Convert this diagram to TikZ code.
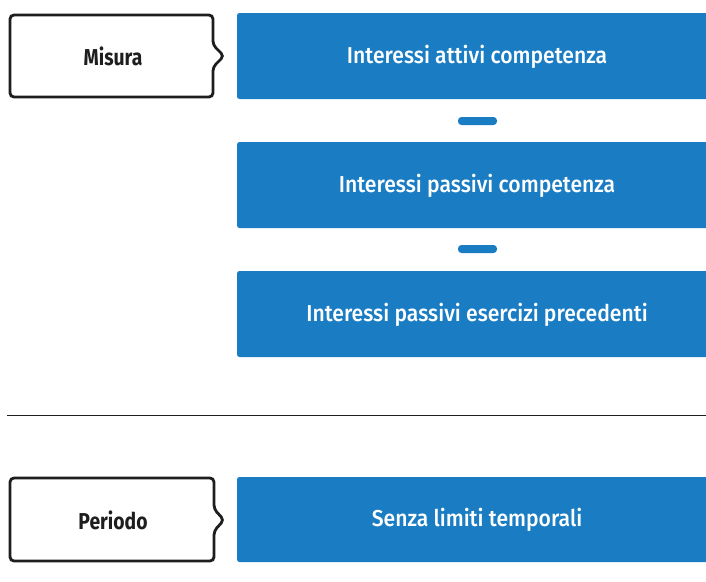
\documentclass[tikz,border=0pt]{standalone}
\usepackage{fontspec}
\setmainfont{Fira Sans}
\newfontfamily\medfont{Fira Sans Medium}[FakeStretch=0.92]
\newfontfamily\boldfont{Fira Sans}[FakeStretch=0.84]
\definecolor{blu}{HTML}{1A7DC4}
\definecolor{ink}{HTML}{1E1E1E}
\tikzset{
  bluebox/.style={fill=blu, rounded corners=2.5pt},
  bluetext/.style={text=white, anchor=base, inner sep=0pt, font=\medfont\fontsize{23}{26}\selectfont},
  labtext/.style={text=ink, anchor=base, inner sep=0pt, font=\boldfont\bfseries\fontsize{23}{26}\selectfont},
  tagbox/.style={draw=ink, line width=2.8pt, rounded corners=4pt, fill=white},
  minusbar/.style={fill=blu, rounded corners=3.5pt}
}
\begin{document}
\begin{tikzpicture}[x=1pt,y=-1pt]
\clip (0,0) rectangle (706,581);
\fill[white] (0,0) rectangle (706,581);
% tag boxes
\draw[tagbox] (10,15) -- (213,15) -- (213,45) -- (224,56) -- (213,67) -- (213,97) -- (10,97) -- cycle;
\node[labtext] (misura) at (113,65.7) {Misura};
\draw[tagbox] (10,478) -- (214,478) -- (214,509) -- (224,520) -- (214,531) -- (214,561) -- (10,561) -- cycle;
\node[labtext] (periodo) at (113,529.3) {Periodo};
% blue boxes
\fill[bluebox] (237,13) rectangle (712,99);
\node[bluetext] (b1) at (477,63.3) {Interessi attivi competenza};
\fill[minusbar] (458,117) rectangle (497,125);
\node (m1) at (477.5,121) {};
\fill[bluebox] (237,142) rectangle (712,228);
\node[bluetext] (b2) at (477,192.3) {Interessi passivi competenza};
\fill[minusbar] (458,245) rectangle (497,253);
\node (m2) at (477.5,249) {};
\fill[bluebox] (237,271) rectangle (712,357);
\node[bluetext] (b3) at (477,321.7) {Interessi passivi esercizi precedenti};
% separator
\draw[ink, line width=1.2pt] (7,415.5) -- (706,415.5);
\fill[bluebox] (237,477) rectangle (712,562);
\node[bluetext] (b4) at (477,526.7) {Senza limiti temporali};
\end{tikzpicture}
\end{document}
